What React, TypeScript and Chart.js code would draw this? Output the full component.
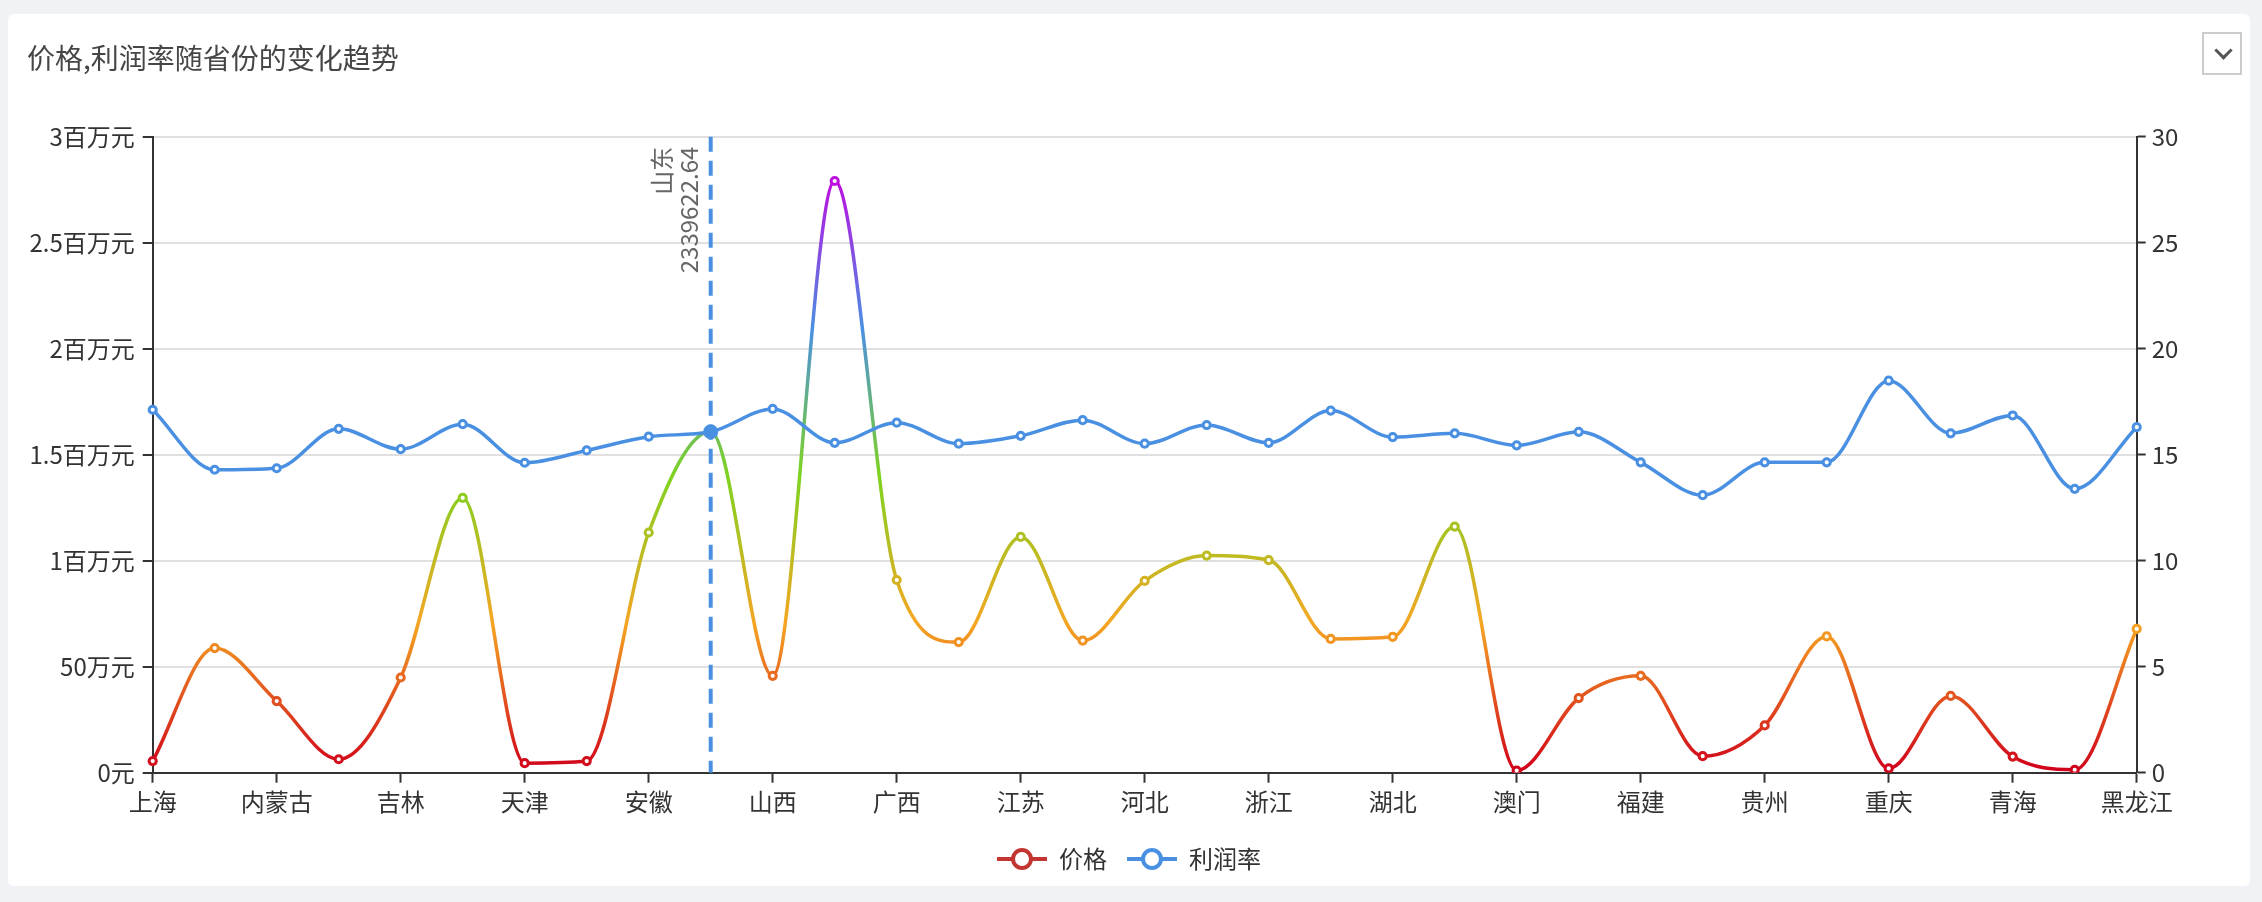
import React, { useEffect, useRef } from 'react';
import { Chart, registerables } from 'chart.js';

Chart.register(...registerables);

// ---- data ----
const provinces = [
  '上海', '云南', '内蒙古', '北京', '吉林', '四川', '天津', '宁夏', '安徽', '山东', '山西',
  '广东', '广西', '新疆', '江苏', '江西', '河北', '河南', '浙江', '海南', '湖北', '湖南',
  '澳门', '甘肃', '福建', '西藏', '贵州', '辽宁', '重庆', '陕西', '青海', '香港', '黑龙江',
];

const priceValues = [
  55000, 588000, 338000, 63500, 449000, 1296000, 45000, 55000, 1133000, 1610000, 457000,
  2791000, 909000, 616000, 1112000, 623000, 905000, 1024000, 1003000, 631000, 641000, 1161000,
  10000, 352000, 457000, 78000, 223000, 643000, 20000, 362000, 76000, 14000, 678000,
];

const profitValues = [
  17.12, 14.29, 14.36, 16.22, 15.26, 16.44, 14.62, 15.2, 15.85, 16.08, 17.16,
  15.56, 16.51, 15.52, 15.89, 16.63, 15.52, 16.4, 15.56, 17.08, 15.83, 16.01,
  15.44, 16.08, 14.64, 13.09, 14.64, 14.64, 18.49, 16.01, 16.85, 13.39, 16.3,
];

const seriesNames = ['价格', '利润率'];
const markProvince = '山东';
const markValueLabel = '2339622.64';
const titleText = '价格,利润率随省份的变化趋势';

const priceAxisMax = 3000000;
const priceAxisStep = 500000;
const profitAxisMax = 30;
const profitAxisStep = 5;

const gradientColors = ['#d0021b', '#f5a623', '#7ed321', '#4a90e2', '#bd10e0'];
const profitColor = '#4a90e2';
const priceLegendColor = '#c23531';

const FONT = '"Noto Sans CJK SC", "Noto Sans", sans-serif';

// ---- helpers ----
function hexToRgb(h: string) {
  const v = parseInt(h.slice(1), 16);
  return [(v >> 16) & 255, (v >> 8) & 255, v & 255];
}
function colorAt(t: number) {
  const n = gradientColors.length - 1;
  const c = Math.max(0, Math.min(1, t)) * n;
  const i = Math.min(n - 1, Math.floor(c));
  const f = c - i;
  const a = hexToRgb(gradientColors[i]);
  const b = hexToRgb(gradientColors[i + 1]);
  const r = a.map((x, k) => Math.round(x + (b[k] - x) * f));
  return `rgb(${r[0]},${r[1]},${r[2]})`;
}
function makeIcon(color: string) {
  const c = document.createElement('canvas');
  c.width = 50;
  c.height = 26;
  const g = c.getContext('2d')!;
  g.strokeStyle = color;
  g.lineWidth = 4;
  g.beginPath();
  g.moveTo(0, 13);
  g.lineTo(50, 13);
  g.stroke();
  g.beginPath();
  g.arc(25, 13, 9, 0, Math.PI * 2);
  g.fillStyle = '#fff';
  g.fill();
  g.stroke();
  return c;
}
function formatPrice(v: number) {
  if (v === 0) return '0元';
  if (v < 1000000) return `${v / 10000}万元`;
  return `${v / 1000000}百万元`;
}

const priceMin = Math.min(...priceValues);
const priceMax = Math.max(...priceValues);

const markLinePlugin = {
  id: 'markLine',
  beforeDatasetsDraw(chart: any) {
    const { ctx, chartArea, scales } = chart;
    const idx = provinces.indexOf(markProvince);
    const x = scales.x.getPixelForValue(idx);
    ctx.save();
    ctx.strokeStyle = profitColor;
    ctx.lineWidth = 4;
    ctx.setLineDash([15, 9]);
    ctx.beginPath();
    ctx.moveTo(x, chartArea.top);
    ctx.lineTo(x, chartArea.bottom);
    ctx.stroke();
    ctx.setLineDash([]);
    ctx.translate(x, chartArea.top + 10);
    ctx.rotate(-Math.PI / 2);
    ctx.font = `24px ${FONT}`;
    ctx.fillStyle = '#666';
    ctx.textAlign = 'right';
    ctx.textBaseline = 'middle';
    ctx.fillText(markProvince, 0, -49);
    ctx.fillText(markValueLabel, 0, -22);
    ctx.restore();
  },
};

export default function App() {
  const ref = useRef<HTMLCanvasElement>(null);

  useEffect(() => {
    if (!ref.current) return;
    const icons = [makeIcon(priceLegendColor), makeIcon(profitColor)];
    const markIdx = provinces.indexOf(markProvince);
    const chart = new Chart(ref.current, {
      type: 'line',
      data: {
        labels: provinces,
        datasets: [
          {
            label: seriesNames[0],
            data: priceValues,
            yAxisID: 'y',
            order: 1,
            cubicInterpolationMode: 'monotone',
            borderWidth: 3.5,
            borderColor: (ctx: any) => {
              const chart = ctx.chart;
              const y = chart.scales?.y;
              if (!chart.chartArea || !y) return gradientColors[0];
              const g = chart.ctx.createLinearGradient(
                0, y.getPixelForValue(priceMin), 0, y.getPixelForValue(priceMax));
              gradientColors.forEach((c, i) => g.addColorStop(i / (gradientColors.length - 1), c));
              return g;
            },
            pointBorderColor: priceValues.map((v) => colorAt((v - priceMin) / (priceMax - priceMin))),
            pointBackgroundColor: '#fff',
            pointRadius: 3.6,
            pointBorderWidth: 3,
          },
          {
            label: seriesNames[1],
            data: profitValues,
            yAxisID: 'y1',
            order: 0,
            cubicInterpolationMode: 'monotone',
            borderWidth: 3.5,
            borderColor: profitColor,
            pointBorderColor: profitColor,
            pointBackgroundColor: profitValues.map((_, i) => (i === markIdx ? profitColor : '#fff')),
            pointRadius: profitValues.map((_, i) => (i === markIdx ? 6 : 3.6)),
            pointBorderWidth: 3,
          },
        ],
      },
      options: {
        animation: false,
        responsive: false,
        events: [],
        layout: { padding: { top: 122.7, bottom: 5, left: 0, right: 0 } },
        plugins: {
          tooltip: { enabled: false },
          legend: {
            position: 'bottom',
            labels: {
              usePointStyle: true,
              pointStyleWidth: 50,
              padding: 20,
              color: '#333',
              font: { size: 24, family: FONT },
              generateLabels: (chart: any) =>
                chart.data.datasets.map((ds: any, i: number) => ({
                  text: ds.label,
                  pointStyle: icons[i],
                  datasetIndex: i,
                  hidden: false,
                  lineWidth: 0,
                  fontColor: '#333',
                })),
            },
          },
        },
        scales: {
          x: {
            type: 'category',
            offset: false,
            afterFit: (s: any) => { s.height = 54.3; },
            grid: {
              drawOnChartArea: false,
              drawTicks: true,
              tickLength: 10,
              tickWidth: 2,
              tickColor: (c: any) => (c.index % 2 === 0 ? '#333' : 'rgba(0,0,0,0)'),
            },
            border: { color: '#333', width: 2 },
            ticks: {
              autoSkip: false,
              maxRotation: 0,
              minRotation: 0,
              padding: 4.6,
              color: '#333',
              font: { size: 24, family: FONT },
              callback: (_v: any, i: number) => (i % 2 === 0 ? provinces[i] : ''),
            },
          },
          y: {
            position: 'left',
            min: 0,
            max: priceAxisMax,
            afterFit: (s: any) => { s.width = 144.7; },
            grid: {
              color: '#e0e0e0',
              lineWidth: 2,
              tickLength: 10,
              tickWidth: 2,
              tickColor: '#333',
            },
            border: { color: '#333', width: 2 },
            ticks: {
              stepSize: priceAxisStep,
              padding: 8,
              color: '#333',
              font: { size: 24, family: FONT },
              callback: (v: any) => formatPrice(Number(v)),
            },
          },
          y1: {
            position: 'right',
            min: 0,
            max: profitAxisMax,
            afterFit: (s: any) => { s.width = 113.3; },
            grid: {
              drawOnChartArea: false,
              tickLength: 9,
              tickWidth: 2,
              tickColor: '#333',
            },
            border: { color: '#333', width: 2 },
            ticks: {
              stepSize: profitAxisStep,
              padding: 6,
              color: '#333',
              font: { size: 24, family: FONT },
            },
          },
        },
      } as any,
      plugins: [markLinePlugin],
    });
    return () => chart.destroy();
  }, []);

  return (
    <div style={{ position: 'fixed', left: 0, top: 0, width: 2262, height: 902, background: '#f0f2f5' }}>
      <div
        style={{
          position: 'absolute', left: 8, top: 14, width: 2242, height: 872,
          background: '#fff', borderRadius: 6, overflow: 'hidden',
        }}
      >
        <canvas ref={ref} width={2242} height={872} style={{ position: 'absolute', left: 0, top: 0, width: 2242, height: 872 }} />
        <div
          style={{
            position: 'absolute', left: 19, top: 28.5, fontSize: 28, lineHeight: '28px',
            color: '#464646', fontFamily: FONT, whiteSpace: 'nowrap',
          }}
        >
          {titleText}
        </div>
        <div
          style={{
            position: 'absolute', left: 2194, top: 18, width: 40, height: 43, boxSizing: 'border-box',
            border: '2px solid #ccc', background: '#fff',
          }}
        >
          <span
            style={{
              position: 'absolute', left: 13, top: 10, width: 10, height: 10,
              borderRight: '3px solid #555', borderBottom: '3px solid #555', transform: 'rotate(45deg)',
            }}
          />
        </div>
      </div>
    </div>
  );
}
